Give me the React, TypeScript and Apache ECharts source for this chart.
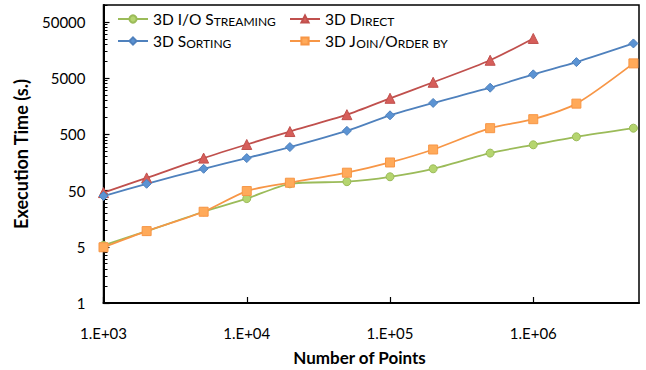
import React, { useEffect, useRef } from "react";
import * as echarts from "echarts";

// Problem sizes (number of points) on the x axis
const pointCounts = [1e3, 2e3, 5e3, 1e4, 2e4, 5e4, 1e5, 2e5, 5e5, 1e6, 2e6, 5e6];

// Execution time in seconds for each workload
const ioStreaming = [5.3, 9.5, 21, 36, 66, 72, 88, 122, 232, 326, 452, 644];
const direct = [46, 84, 189, 330, 561, 1120, 2190, 4220, 10400, 25400];
const sorting = [40, 66, 122, 189, 297, 577, 1090, 1810, 3380, 5840, 9640, 20700];
const joinOrderBy = [4.9, 9.5, 21, 49, 69, 104, 158, 269, 644, 931, 1760, 9150];

// Y axis: log scale from 0.5 to 100000, major marks every decade starting at 0.5
const yTickValues = [0.5, 5, 50, 500, 5000, 50000];
const yTickLabels = ["1", "5", "50", "500", "5000", "50000"];
const yMin = 0.5;
const yMax = 100000;

const xMin = 1000;
const xMax = 5.47e6;

const FONT = "Lato";

// log-decade position of a time value, measured from yMin
const yPos = (v: number) => Math.log10(v / yMin);

const minorTickValues: number[] = [];
for (let d = 0; d < 6; d++) {
  for (let k = 2; k <= 9; k++) {
    const v = yMin * k * Math.pow(10, d);
    if (v <= yMax) minorTickValues.push(yPos(v));
  }
}

// Renders a name in small caps as rich text
const smallCaps = (name: string) => {
  let out = "";
  let cur = "";
  let curStyle = "";
  for (const ch of name) {
    const isLower = ch !== ch.toUpperCase();
    const style = isLower ? "sc" : "cap";
    const c = isLower ? ch.toUpperCase() : ch;
    if (style !== curStyle && cur) {
      out += `{${curStyle}|${cur}}`;
      cur = "";
    }
    curStyle = style;
    cur += c;
  }
  if (cur) out += `{${curStyle}|${cur}}`;
  return out;
};

const makeSeries = (
  name: string,
  values: number[],
  color: string,
  fill: string,
  symbol: string,
  symbolSize: number
) => ({
  name,
  type: "line",
  smooth: 0.25,
  data: values.map((v, i) => [pointCounts[i], yPos(v)]),
  symbol,
  symbolSize,
  showSymbol: true,
  lineStyle: { color, width: 1.8 },
  itemStyle: { color: fill, borderColor: color, borderWidth: 1 },
});

const legendText = {
  fontFamily: FONT,
  color: "#000",
  rich: {
    cap: { fontFamily: FONT, fontSize: 15.5, color: "#000", verticalAlign: "bottom" },
    sc: { fontFamily: FONT, fontSize: 12, color: "#000", verticalAlign: "bottom" },
  },
};

const makeLegend = (names: string[], left: number) => ({
  orient: "vertical",
  left,
  top: 11,
  padding: 0,
  itemWidth: 30,
  itemHeight: 9,
  itemGap: 6,
  data: names,
  formatter: (n: string) => smallCaps(n),
  textStyle: legendText,
});

export default function App() {
  const ref = useRef<HTMLDivElement>(null);

  useEffect(() => {
    if (!ref.current) return;
    const chart = echarts.init(ref.current, null, { renderer: "svg" });

    const option = {
      animation: false,
      backgroundColor: "#fff",
      grid: {
        left: 103.5,
        top: 5,
        right: 7,
        bottom: 67,
        show: true,
        borderColor: "#000",
        borderWidth: 1.5,
        backgroundColor: "transparent",
      },
      legend: [
        makeLegend(["3D I/O Streaming", "3D Sorting"], 117),
        makeLegend(["3D Direct", "3D Join/Order by"], 289),
      ],
      xAxis: {
        type: "log",
        logBase: 10,
        min: xMin,
        max: xMax,
        axisLine: { onZero: false, lineStyle: { color: "#000", width: 2 } },
        axisTick: { inside: true, length: 6, lineStyle: { color: "#000", width: 1.2 } },
        axisLabel: {
          margin: 22,
          fontFamily: FONT,
          fontSize: 15,
          color: "#000",
          showMaxLabel: false,
          formatter: (v: number) => {
            const e = Math.round(Math.log10(v));
            return "1.E+" + String(e).padStart(2, "0");
          },
        },
        splitLine: { show: false },
        minorTick: { show: false },
      },
      yAxis: [
        {
          type: "value",
          min: 0,
          max: yPos(yMax),
          position: "left",
          axisLine: { onZero: false, lineStyle: { color: "#000", width: 2 } },
          axisTick: {
            inside: true,
            length: 6,
            customValues: yTickValues.map(yPos),
            lineStyle: { color: "#000", width: 1.2 },
          },
          axisLabel: {
            margin: 18,
            fontFamily: FONT,
            fontSize: 15,
            color: "#000",
            customValues: yTickValues.map(yPos),
            formatter: (t: number) => {
              const i = yTickValues.findIndex((v) => Math.abs(yPos(v) - t) < 1e-6);
              return i >= 0 ? yTickLabels[i] : "";
            },
          },
          splitLine: { show: false },
        },
        {
          // log minor ticks
          type: "value",
          min: 0,
          max: yPos(yMax),
          position: "left",
          offset: 0,
          axisLine: { show: false },
          axisTick: {
            inside: true,
            length: 4,
            customValues: minorTickValues,
            lineStyle: { color: "#000", width: 1 },
          },
          axisLabel: { show: false },
          splitLine: { show: false },
        },
      ],
      graphic: [
        {
          type: "text",
          x: 21,
          y: 154,
          rotation: Math.PI / 2,
          style: {
            text: "Execution Time (s.)",
            fontFamily: FONT,
            fontWeight: "bold",
            fontSize: 18,
            fill: "#000",
            align: "center",
            verticalAlign: "middle",
          },
        },
        {
          type: "text",
          x: 359.5,
          y: 357,
          style: {
            text: "Number of Points",
            fontFamily: FONT,
            fontWeight: "bold",
            fontSize: 17,
            fill: "#000",
            align: "center",
            verticalAlign: "middle",
          },
        },
      ],
      series: [
        makeSeries("3D I/O Streaming", ioStreaming, "#9BBB59", "#B5D56F", "circle", 8),
        makeSeries("3D Direct", direct, "#C0504D", "#D65E5A", "triangle", 10),
        makeSeries("3D Sorting", sorting, "#4F81BD", "#5B93D3", "diamond", 9),
        makeSeries("3D Join/Order by", joinOrderBy, "#F79646", "#FFAA5A", "rect", 9),
      ],
    };

    chart.setOption(option as any);
    return () => chart.dispose();
  }, []);

  return (
    <div
      ref={ref}
      style={{ position: "fixed", left: 0, top: 0, width: 646, height: 370 }}
    />
  );
}
